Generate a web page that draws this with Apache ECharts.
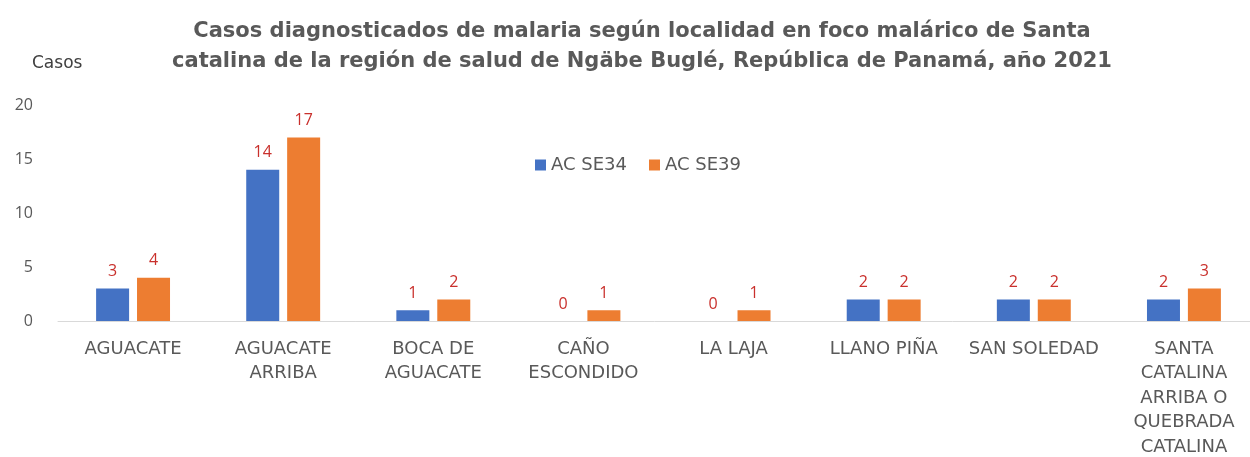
<!DOCTYPE html>
<html>
<head>
<meta charset="utf-8">
<script src="https://cdn.jsdelivr.net/npm/echarts@6/dist/echarts.min.js"></script>
<style>
  html, body { margin: 0; padding: 0; background: #fff; }
  #main { width: 1250px; height: 457px; }
</style>
</head>
<body>
<div id="main"></div>
<script>
// datos
var categories = ['AGUACATE', 'AGUACATE ARRIBA', 'BOCA DE AGUACATE', 'CAÑO ESCONDIDO',
                  'LA LAJA', 'LLANO PIÑA', 'SAN SOLEDAD', 'SANTA CATALINA ARRIBA O QUEBRADA CATALINA'];
var se34 = [3, 14, 1, 0, 0, 2, 2, 2];
var se39 = [4, 17, 2, 1, 1, 2, 2, 3];
var yTicks = [0, 5, 10, 15, 20];

var titleText = 'Casos diagnosticados de malaria según localidad en foco malárico de Santa\n' +
                'catalina de la región de salud de Ngäbe Buglé, República de Panamá, año 2021';

// parte las etiquetas en lineas de max 11 caracteres
function wrap(value) {
    var words = value.split(' ');
    var lines = [], cur = '';
    for (var i = 0; i < words.length; i++) {
        var test = cur ? cur + ' ' + words[i] : words[i];
        if (test.length > 11 && cur) {
            lines.push(cur);
            cur = words[i];
        } else {
            cur = test;
        }
    }
    if (cur) lines.push(cur);
    return lines.join('\n');
}

var chart = echarts.init(document.getElementById('main'));
var labelStyle = {
    show: true,
    position: 'top',
    distance: 9,
    color: '#c9302c',
    fontSize: 16,
    fontFamily: 'Open Sans'
};

chart.setOption({
    backgroundColor: '#ffffff',
    title: [{
        text: titleText,
        left: 637,
        top: 12,
        textAlign: 'center',
        textStyle: {
            fontSize: 21,
            fontWeight: 'bold',
            color: '#595959',
            fontFamily: 'DejaVu Sans',
            lineHeight: 30,
            align: 'center'
        }
    }, {
        text: 'Casos',
        left: 27,
        top: 50,
        textStyle: { fontSize: 17, fontWeight: 'normal', color: '#404040', fontFamily: 'DejaVu Sans' }
    }],
    legend: {
        data: ['AC SE34', 'AC SE39'],
        left: 530,
        top: 151,
        itemWidth: 11,
        itemHeight: 11,
        itemGap: 22,
        icon: 'rect',
        textStyle: { fontSize: 18, color: '#595959', fontFamily: 'DejaVu Sans' }
    },
    grid: {
        left: 58,
        top: 105,
        width: 1201,
        bottom: 136,
        outerBoundsMode: 'none'
    },
    xAxis: {
        type: 'category',
        data: categories,
        axisLine: { lineStyle: { color: '#d9d9d9', width: 1 } },
        axisTick: { show: false },
        axisLabel: {
            interval: 0,
            margin: 16,
            fontSize: 18,
            lineHeight: 24.5,
            color: '#595959',
            fontFamily: 'DejaVu Sans',
            formatter: wrap
        }
    },
    yAxis: {
        type: 'value',
        min: yTicks[0],
        max: yTicks[yTicks.length - 1],
        interval: 5,
        splitLine: { show: false },
        axisLine: { show: false },
        axisTick: { show: false },
        axisLabel: {
            margin: 25,
            fontSize: 16,
            color: '#595959',
            fontFamily: 'Open Sans'
        }
    },
    series: [{
        name: 'AC SE34',
        type: 'bar',
        data: se34,
        barWidth: 33,
        barGap: '24%',
        itemStyle: { color: '#4472c4' },
        label: labelStyle
    }, {
        name: 'AC SE39',
        type: 'bar',
        data: se39,
        barWidth: 33,
        barGap: '24%',
        itemStyle: { color: '#ed7d31' },
        label: labelStyle
    }]
});
</script>
</body>
</html>
